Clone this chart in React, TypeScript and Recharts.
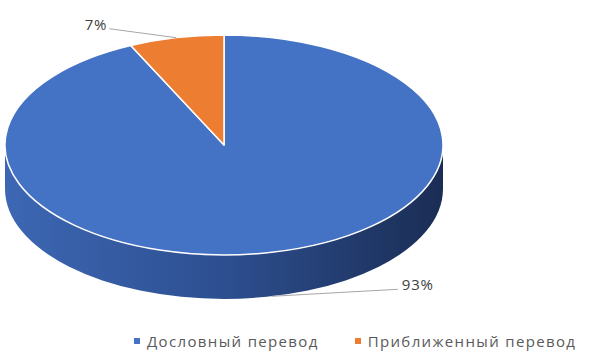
import { PieChart, Pie, Cell, Legend } from "recharts";

const categories = ["Дословный перевод", "Приближенный перевод"];
const shares = [93, 7];
const colors = ["#4472C4", "#ED7D31"];

const data = categories.map((name, i) => ({ name, value: shares[i] }));

const RY_RATIO = 0.502;
const DEPTH = 44;
const FONT = "'Open Sans', sans-serif";

const pt = (cx: number, cy: number, rx: number, ry: number, a: number) => {
  const r = (a * Math.PI) / 180;
  return [cx + rx * Math.cos(r), cy - ry * Math.sin(r)];
};

const TopSlice = (props: any) => {
  const { cx, cy, outerRadius, startAngle, endAngle, fill } = props;
  const rx = outerRadius;
  const ry = outerRadius * RY_RATIO;
  const [x1, y1] = pt(cx, cy, rx, ry, startAngle);
  const [x2, y2] = pt(cx, cy, rx, ry, endAngle);
  const large = Math.abs(endAngle - startAngle) > 180 ? 1 : 0;
  const sweep = startAngle > endAngle ? 1 : 0;
  const d = `M${cx},${cy} L${x1},${y1} A${rx},${ry} 0 ${large} ${sweep} ${x2},${y2} Z`;
  return <path d={d} fill={fill} stroke="#fff" strokeWidth={1.5} strokeLinejoin="round" />;
};

// side wall, only the part of a slice facing the viewer
const SideSlice = (props: any) => {
  const { cx, cy, outerRadius, startAngle, endAngle, index } = props;
  const rx = outerRadius;
  const ry = outerRadius * RY_RATIO;
  const hi = Math.max(startAngle, endAngle);
  const lo = Math.min(startAngle, endAngle);
  const parts: string[] = [];
  for (const k of [-360, 0, 360]) {
    const a1 = Math.min(hi, k);
    const a2 = Math.max(lo, k - 180);
    if (a1 - a2 <= 0.01) continue;
    const [x1, y1] = pt(cx, cy, rx, ry, a1);
    const [x2, y2] = pt(cx, cy, rx, ry, a2);
    parts.push(
      `M${x1},${y1} A${rx},${ry} 0 0 1 ${x2},${y2} L${x2},${y2 + DEPTH} A${rx},${ry} 0 0 0 ${x1},${y1 + DEPTH} Z`
    );
  }
  if (!parts.length) return <g />;
  return <path d={parts.join(" ")} fill={`url(#side-${index})`} />;
};

const LABEL_SHIFT = [
  { dx: 126, dy: -7 },
  { dx: -67, dy: -9 },
];

const renderLabel = (props: any) => {
  const { cx, cy, outerRadius, midAngle, percent, index } = props;
  const rx = outerRadius;
  const ry = outerRadius * RY_RATIO;
  let [x, y] = pt(cx, cy, rx, ry, midAngle);
  if (Math.sin((midAngle * Math.PI) / 180) < 0) y += DEPTH;
  const s = LABEL_SHIFT[index];
  const lx = x + s.dx;
  const ly = y + s.dy;
  const right = s.dx > 0;
  return (
    <g>
      <polyline points={`${x},${y} ${lx},${ly}`} fill="none" stroke="#A6A6A6" strokeWidth={1} />
      <text
        x={right ? lx + 4 : lx - 2}
        y={ly - 5}
        dominantBaseline="central"
        textAnchor={right ? "start" : "end"}
        fill="#404040"
        fontSize={15}
        letterSpacing={0.8}
        fontFamily={FONT}
      >
        {`${Math.round(percent * 100)}%`}
      </text>
    </g>
  );
};

const LegendContent = () => (
  <div
    style={{
      display: "flex",
      alignItems: "center",
      fontFamily: FONT,
      fontSize: 15,
      letterSpacing: 1.35,
      color: "#595959",
      whiteSpace: "nowrap",
    }}
  >
    {categories.map((c, i) => (
      <div key={c} style={{ display: "flex", alignItems: "center", marginRight: 36 }}>
        <span style={{ width: 6, height: 6, background: colors[i], marginRight: 7, display: "inline-block" }} />
        <span>{c}</span>
      </div>
    ))}
  </div>
);

export default function App() {
  return (
    <div style={{ width: 589, height: 358, background: "#fff" }}>
      <style>{"body{margin:0}"}</style>
      <PieChart width={589} height={358} margin={{ top: 0, right: 0, bottom: 0, left: 0 }}>
        <defs>
          {colors.map((c, i) => (
            <linearGradient key={c} id={`side-${i}`} x1="0" y1="0" x2="1" y2="0">
              <stop offset="0%" stopColor={i === 0 ? "#3D67B4" : "#C0612A"} />
              <stop offset="50%" stopColor={i === 0 ? "#2D4F90" : "#A8531F"} />
              <stop offset="100%" stopColor={i === 0 ? "#1A2D54" : "#7A3A14"} />
            </linearGradient>
          ))}
        </defs>
        <Pie
          data={data}
          dataKey="value"
          nameKey="name"
          cx={224}
          cy={145}
          outerRadius={219}
          startAngle={90}
          endAngle={-270}
          shape={SideSlice}
          legendType="none"
          isAnimationActive={false}
          stroke="none"
        >
          {data.map((d, i) => (
            <Cell key={d.name} fill={colors[i]} />
          ))}
        </Pie>
        <Pie
          data={data}
          dataKey="value"
          nameKey="name"
          cx={224}
          cy={145}
          outerRadius={219}
          startAngle={90}
          endAngle={-270}
          shape={TopSlice}
          label={renderLabel}
          labelLine={false}
          isAnimationActive={false}
        >
          {data.map((d, i) => (
            <Cell key={d.name} fill={colors[i]} />
          ))}
        </Pie>
        <Legend
          content={LegendContent}
          wrapperStyle={{ position: "absolute", left: 134, top: 331, width: "auto" }}
        />
      </PieChart>
    </div>
  );
}
